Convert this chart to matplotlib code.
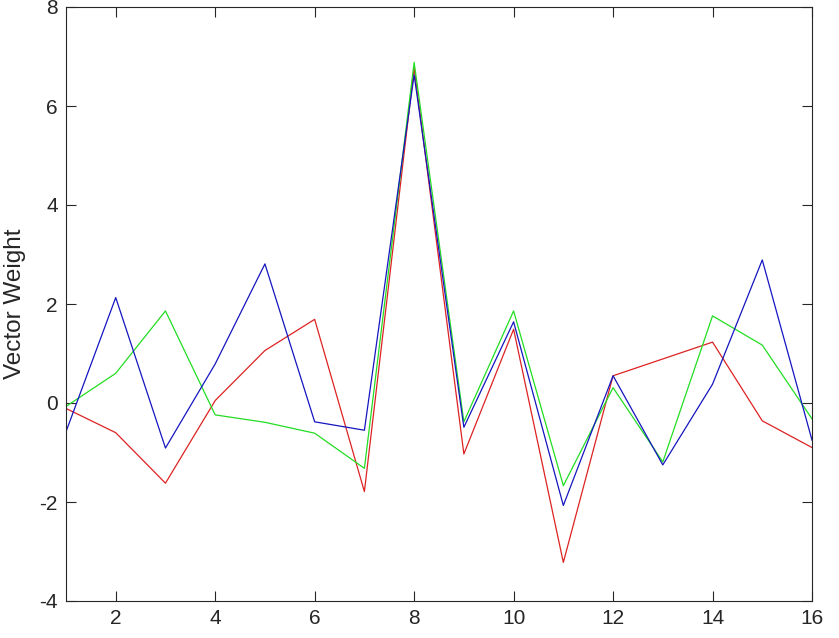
import matplotlib
matplotlib.use("Agg")
import matplotlib.pyplot as plt

x = list(range(1, 17))
red = [-0.11, -0.60, -1.62, 0.05, 1.06, 1.69, -1.79, 6.77, -1.03, 1.49, -3.22, 0.55, 0.89, 1.23, -0.36, -0.90]
green = [-0.07, 0.60, 1.86, -0.24, -0.39, -0.61, -1.32, 6.88, -0.38, 1.86, -1.67, 0.31, -1.19, 1.76, 1.17, -0.32]
blue = [-0.58, 2.13, -0.91, 0.79, 2.81, -0.38, -0.55, 6.63, -0.49, 1.64, -2.07, 0.55, -1.25, 0.38, 2.89, -0.75]

xticks = [2, 4, 6, 8, 10, 12, 14, 16]
yticks = [-4, -2, 0, 2, 4, 6, 8]

plt.rcParams['font.family'] = ['Liberation Sans', 'DejaVu Sans']
plt.rcParams['axes.unicode_minus'] = False
fig = plt.figure(figsize=(8.39, 6.38), dpi=100)
ax = fig.add_axes([66/839, 37/638, 746/839, 594/638])

ax.plot(x, red, color='#dd2222', lw=0.9)
ax.plot(x, green, color='#22dd22', lw=0.9)
ax.plot(x, blue, color='#1515c0', lw=0.9)

ax.set_xlim(1, 16)
ax.set_ylim(-4, 8)
ax.set_xticks(xticks)
ax.set_yticks(yticks)
ax.tick_params(direction='in', top=True, right=True, length=7, width=0.8,
               labelsize=15, color='#262626', labelcolor='#262626', pad=6)
for s in ax.spines.values():
    s.set_color('#262626')
    s.set_linewidth(0.8)
ax.set_ylabel('Vector Weight', fontsize=17.5, color='#262626')
ax.yaxis.set_label_coords(-0.054, 0.5)

fig.savefig('out.png', dpi=100)
